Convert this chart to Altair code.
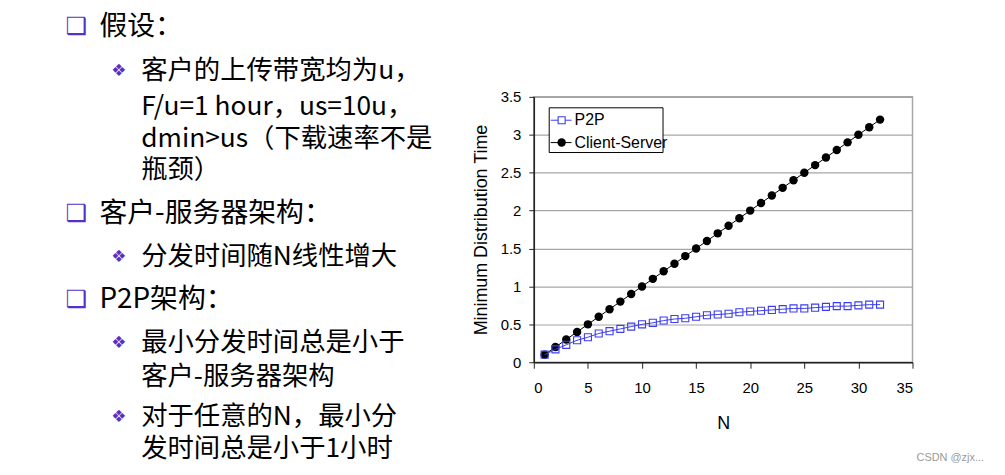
import altair as alt
import pandas as pd

# ---------------- data ----------------
n_values = [1, 2, 3, 4, 5, 6, 7, 8, 9, 10, 11, 12, 13, 14, 15, 16,
            17, 18, 19, 20, 21, 22, 23, 24, 25, 26, 27, 28, 29, 30, 31, 32]
p2p_times = [0.10, 0.17, 0.23, 0.29, 0.33, 0.38, 0.41, 0.44, 0.47, 0.50, 0.52, 0.55,
             0.57, 0.58, 0.60, 0.62, 0.63, 0.64, 0.66, 0.67, 0.68, 0.69, 0.70, 0.71,
             0.71, 0.72, 0.73, 0.74, 0.74, 0.75, 0.76, 0.76]
cs_times = [0.1, 0.2, 0.3, 0.4, 0.5, 0.6, 0.7, 0.8, 0.9, 1.0, 1.1, 1.2, 1.3, 1.4, 1.5, 1.6,
            1.7, 1.8, 1.9, 2.0, 2.1, 2.2, 2.3, 2.4, 2.5, 2.6, 2.7, 2.8, 2.9, 3.0, 3.1, 3.2]
series_names = ["P2P", "Client-Server"]
x_ticks = [0, 5, 10, 15, 20, 25, 30, 35]
y_ticks = [0, 0.5, 1, 1.5, 2, 2.5, 3, 3.5]

top_bullets = ["假设：", "客户-服务器架构：", "P2P架构："]
sub_lines = ["客户的上传带宽均为u，", "F/u=1 hour，us=10u，", "dmin>us（下载速率不是", "瓶颈）",
             "分发时间随N线性增大",
             "最小分发时间总是小于", "客户-服务器架构",
             "对于任意的N，最小分", "发时间总是小于1小时"]
watermark = "CSDN @zjx..."

BLUE = "#3c3cf0"
PURPLE = "#5532c4"
CJK = "Noto Sans CJK SC"
SANS = "Liberation Sans"

df = pd.DataFrame({
    "N": n_values + n_values,
    "time": p2p_times + cs_times,
    "series": [series_names[0]] * len(n_values) + [series_names[1]] * len(n_values),
})
one = pd.DataFrame({"k": [0]})

x_enc = alt.X("N:Q", scale=alt.Scale(domain=[0, 35], nice=False),
              axis=alt.Axis(values=x_ticks, grid=False, title="N", format="~g",
                            domainColor="#222222", tickColor="#222222", tickSize=6,
                            labelPadding=12, titlePadding=20))
y_enc = alt.Y("time:Q", scale=alt.Scale(domain=[0, 3.5], nice=False),
              axis=alt.Axis(values=y_ticks, grid=True, gridColor="#a6a6a6", gridWidth=1.2,
                            title="Minimum Distribution Time", format="~g",
                            domainColor="#222222", tickColor="#222222", tickSize=5,
                            labelPadding=8, titlePadding=10))

base = alt.Chart(df)
cs_line = base.transform_filter(alt.datum.series == series_names[1]).mark_line(
    color="black", strokeWidth=1).encode(x=x_enc, y=y_enc)
cs_pts = base.transform_filter(alt.datum.series == series_names[1]).mark_point(
    shape="circle", filled=True, size=72, color="black", opacity=1).encode(x=x_enc, y=y_enc)
p2p_line = base.transform_filter(alt.datum.series == series_names[0]).mark_line(
    color=BLUE, strokeWidth=1).encode(x=x_enc, y=y_enc)
p2p_pts = base.transform_filter(alt.datum.series == series_names[0]).mark_point(
    shape="square", filled=False, size=50, color=BLUE, strokeWidth=1.1, opacity=1).encode(x=x_enc, y=y_enc)

# ---------------- manual legend (inside plot, top-left) ----------------
leg_box = alt.Chart(one).mark_rect(fill="white", stroke="black", strokeWidth=1).encode(
    x=alt.value(15.5), x2=alt.value(130), y=alt.value(11), y2=alt.value(56))
leg_layers = [leg_box]
for i, (name, col) in enumerate(zip(series_names, [BLUE, "black"])):
    yy = 23.5 + i * 22.5
    leg_layers.append(alt.Chart(one).mark_rule(color=col, strokeWidth=1).encode(
        x=alt.value(17), x2=alt.value(38), y=alt.value(yy)))
    if i == 0:
        leg_layers.append(alt.Chart(one).mark_point(shape="square", filled=True, fill="white",
                                                    stroke=BLUE, size=50, strokeWidth=1.1, opacity=1).encode(
            x=alt.value(28), y=alt.value(yy)))
    else:
        leg_layers.append(alt.Chart(one).mark_point(shape="circle", filled=True, size=72,
                                                    color="black", opacity=1).encode(
            x=alt.value(28), y=alt.value(yy)))
    leg_layers.append(alt.Chart(one).mark_text(text=name, font=SANS, fontSize=16, align="left",
                                               baseline="middle", color="black").encode(
        x=alt.value(41), y=alt.value(yy)))


# ---------------- slide text (left) ----------------
def txt(s, x, y, size, color="black", font=CJK, weight="normal"):
    return alt.Chart(one).mark_text(text=s, font=font, fontSize=size, align="left",
                                    baseline="middle", color=color, fontWeight=weight).encode(
        x=alt.value(x), y=alt.value(y))


OX, OY = 537, 96  # plot origin in page pixels
text_layers = []
top_y = [26, 214, 300]
for s, yy in zip(top_bullets, top_y):
    text_layers.append(txt("❑", 66 - OX, yy - OY, 24, color=PURPLE, font="DejaVu Sans"))
    text_layers.append(txt(s, 100 - OX, yy - OY, 28))
sub_y = [70, 106, 138, 170, 257, 344, 378, 418, 450]
sub_bullet_rows = {0, 4, 5, 7}
for idx, (s, yy) in enumerate(zip(sub_lines, sub_y)):
    if idx in sub_bullet_rows:
        text_layers.append(txt("❖", 112 - OX, yy - OY, 17, color=PURPLE, font="DejaVu Sans"))
    text_layers.append(txt(s, 142 - OX, yy - OY, 26.5))
text_layers.append(txt(watermark, 922 - OX, 459 - OY, 11, color="#9a9a9a", font=SANS))

chart = alt.layer(cs_line, cs_pts, p2p_line, p2p_pts, *leg_layers, *text_layers).properties(
    width=381, height=267,
    padding={"left": 529, "top": 88, "right": 85, "bottom": 108},
    autosize=alt.AutoSizeParams(type="none"),
    background="white",
).configure_view(stroke="#a6a6a6", strokeWidth=1.5).configure_axis(
    labelFont=SANS, labelFontSize=15, labelColor="black",
    titleFont=SANS, titleFontSize=18, titleFontWeight="normal", titleColor="black",
    domainWidth=1.5,
)

chart.save("out.html", embed_options={"renderer": "svg", "actions": False})
